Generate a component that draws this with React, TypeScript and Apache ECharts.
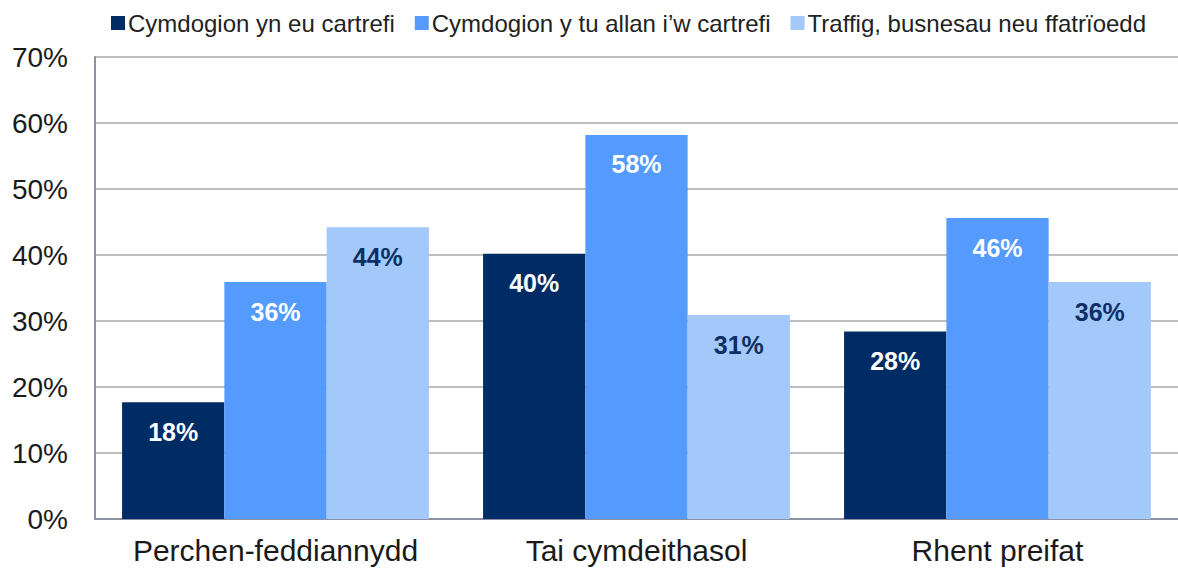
import React, { useEffect, useRef } from "react";
import * as echarts from "echarts";

const categories = ["Perchen-feddiannydd", "Tai cymdeithasol", "Rhent preifat"];
const seriesNames = [
  "Cymdogion yn eu cartrefi",
  "Cymdogion y tu allan i\u2019w cartrefi",
  "Traffig, busnesau neu ffatrïoedd",
];
const neighboursInHomes = [17.7, 40.2, 28.4];
const neighboursOutside = [35.9, 58.2, 45.6];
const traffic = [44.2, 30.9, 35.9];
const yTicks = [0, 10, 20, 30, 40, 50, 60, 70];

const colors = ["#002C65", "#559BFF", "#A3C9FB"];
const labelColors = ["#FFFFFF", "#FFFFFF", "#0D2F64"];

export default function App() {
  const ref = useRef<HTMLDivElement>(null);
  useEffect(() => {
    if (!ref.current) return;
    const chart = echarts.init(ref.current, undefined, { renderer: "svg" });
    const data = [neighboursInHomes, neighboursOutside, traffic];
    chart.setOption({
      animation: false,
      textStyle: { fontFamily: "Liberation Sans, Arial, sans-serif" },
      legend: {
        top: 6,
        left: 106,
        itemWidth: 14,
        itemHeight: 14,
        itemGap: 20,
        icon: "rect",
        textStyle: {
          fontSize: 24,
          color: "#222",
          padding: [0, 0, 0, -2],
        },
        data: seriesNames,
      },
      grid: { left: 95, right: 0, top: 57, bottom: 49, containLabel: false },
      xAxis: {
        type: "category",
        data: categories,
        axisLine: { lineStyle: { color: "#8C90A0", width: 2 } },
        axisTick: { show: false },
        axisLabel: { fontSize: 30, color: "#1a1a1a", margin: 16, interval: 0 },
      },
      yAxis: {
        type: "value",
        min: yTicks[0],
        max: yTicks[yTicks.length - 1],
        interval: 10,
        axisLine: { show: true, lineStyle: { color: "#8C90A0", width: 2 } },
        axisTick: { show: false },
        splitLine: { lineStyle: { color: "#BFBFBF", width: 2 } },
        axisLabel: { fontSize: 28, color: "#1a1a1a", margin: 27, formatter: "{value}%" },
      },
      series: seriesNames.map((name, i) => ({
        name,
        type: "bar",
        data: data[i],
        barGap: "0%",
        barCategoryGap: "15%",
        itemStyle: { color: colors[i] },
        label: {
          show: true,
          position: "insideTop",
          distance: 17,
          fontSize: 25,
          fontWeight: "bold",
          color: labelColors[i],
          formatter: (p: any) => Math.round(p.value) + "%",
        },
      })),
    });
    return () => chart.dispose();
  }, []);
  return (
    <div
      ref={ref}
      style={{ position: "absolute", left: 0, top: 0, width: 1178, height: 568, background: "#fff" }}
    />
  );
}
